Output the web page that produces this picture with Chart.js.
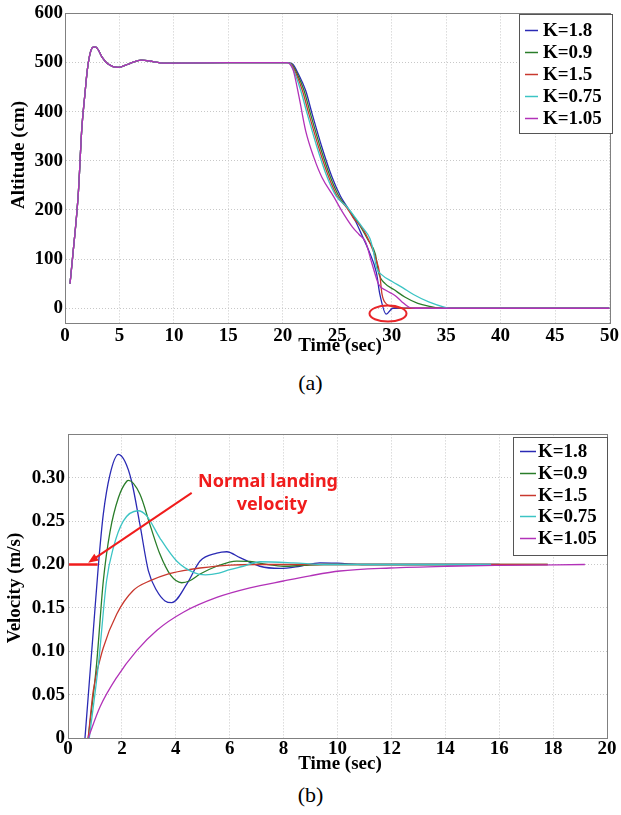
<!DOCTYPE html>
<html>
<head>
<meta charset="utf-8">
<script src="https://cdn.jsdelivr.net/npm/chart.js@4.4.0/dist/chart.umd.min.js"></script>
<style>
  body { margin: 0; background: #fff; width: 621px; height: 815px; position: relative; overflow: hidden; }
  canvas { position: absolute; left: 0; }
  #altChart { top: 0; }
  #velChart { top: 420px; }
  .cap { position: absolute; left: 0; width: 621px; text-align: center; font-family: "Liberation Serif", serif; font-size: 22px; }
</style>
</head>
<body>
<canvas id="altChart" width="621" height="365"></canvas>
<canvas id="velChart" width="621" height="355"></canvas>
<div class="cap" style="top:370px">(a)</div>
<div class="cap" style="top:782px">(b)</div>

<script>
// 曲线名称 / 颜色
const seriesLabels = ['K=1.8', 'K=0.9', 'K=1.5', 'K=0.75', 'K=1.05'];
const seriesColors = ['#2a2ab4', '#2a7d2a', '#c8382e', '#3cc4c4', '#b232b8'];

// ---------- (a) 高度 ----------
const altXTicks = [0, 5, 10, 15, 20, 25, 30, 35, 40, 45, 50];
const altYTicks = [0, 100, 200, 300, 400, 500, 600];

// 起飞 + 悬停段 (五条曲线相同)
const riseTime = [0.46, 0.7, 1.22, 1.55, 1.83, 2.04, 2.3, 2.55, 2.8, 3.1, 3.4, 3.96, 4.87, 5.94, 7.0, 8.07, 8.99, 10, 15, 20.4];
const riseAlt  = [50, 104, 233, 368, 436, 483, 518, 531, 532, 524, 511, 497, 490, 498, 505, 502, 499, 499, 500, 500];

// 降落段
const descTime18 = [20.9, 21.4, 22.1, 22.7, 23.6, 24.5, 25.3, 26.0, 26.7, 27.3, 27.9, 28.6, 28.9, 29.5, 30.1, 50];
const descAlt18  = [497, 478, 443, 395, 327, 268, 228, 203, 176, 147, 117, 72, 30, -12, 0, 0];
const descTime09 = [20.8, 21.3, 21.95, 22.55, 23.45, 24.35, 25.15, 25.95, 27.0, 27.8, 28.5, 28.8, 29.4, 30.2, 31.2, 32.4, 33.5, 34.7, 50];
const descAlt09  = [497, 478, 443, 395, 327, 268, 228, 204, 171, 140, 110, 72, 50, 38, 23, 10, 4, 0, 0];
const descTime15 = [20.75, 21.2, 21.8, 22.4, 23.3, 24.2, 25.0, 25.9, 26.5, 27.3, 28.0, 28.5, 28.9, 29.1, 29.5, 30.3, 31.0, 50];
const descAlt15  = [497, 478, 443, 395, 327, 268, 228, 204, 183, 163, 133, 104, 70, 30, 9, 2, 0, 0];
const descTime075 = [20.7, 21.1, 21.65, 22.25, 23.15, 24.05, 24.9, 25.9, 26.6, 27.4, 28.0, 28.3, 28.6, 29.1, 30.0, 31.0, 32.0, 33.4, 34.9, 35.5, 50];
const descAlt075  = [497, 478, 443, 395, 327, 268, 228, 206, 186, 162, 142, 118, 83, 68, 55, 42, 28, 13, 2, 0, 0];
const descTime105 = [20.65, 20.95, 21.5, 22.1, 22.85, 23.6, 24.7, 25.5, 26.4, 27.0, 27.6, 28.2, 28.8, 29.5, 30.3, 30.9, 31.6, 32.2, 50];
const descAlt105  = [497, 485, 429, 361, 307, 266, 226, 195, 165, 150, 135, 90, 49, 36, 26, 14, 2, 0, 0];

// ---------- (b) 速度 ----------
const velXTicks = [0, 2, 4, 6, 8, 10, 12, 14, 16, 18, 20];
const velYTicks = [0, 0.05, 0.10, 0.15, 0.20, 0.25, 0.30];

const velTime18 = [0.63, 0.94, 1.13, 1.31, 1.56, 1.87, 2.11, 2.36, 2.67, 2.98, 3.29, 3.6, 3.85, 4.4, 4.9, 5.52, 5.89, 6.38, 7.12, 7.87, 8.6, 9.35, 10.0, 11.0, 16.0];
const vel18     = [0, 0.124, 0.2, 0.258, 0.304, 0.327, 0.319, 0.296, 0.246, 0.193, 0.17, 0.158, 0.156, 0.177, 0.204, 0.213, 0.2147, 0.208, 0.198, 0.1955, 0.198, 0.202, 0.2015, 0.2, 0.2];
const velTime09 = [0.75, 1.06, 1.31, 1.56, 1.87, 2.18, 2.25, 2.67, 3.04, 3.41, 3.8, 4.22, 4.5, 4.9, 5.52, 6.26, 6.75, 7.37, 7.99, 8.73, 9.5, 17.8];
const vel09     = [0, 0.085, 0.181, 0.238, 0.277, 0.296, 0.297, 0.281, 0.246, 0.212, 0.188, 0.179, 0.181, 0.189, 0.198, 0.204, 0.2035, 0.2002, 0.198, 0.199, 0.2, 0.2];
const velTime15 = [0.75, 0.94, 1.31, 1.81, 2.42, 3.1, 3.7, 4.28, 4.9, 6.01, 7.0, 17.8];
const vel15     = [0, 0.055, 0.104, 0.143, 0.17, 0.182, 0.189, 0.193, 0.196, 0.1994, 0.2, 0.2];
const velTime075 = [0.79, 1.13, 1.43, 1.68, 2.05, 2.6, 2.92, 3.41, 4.03, 4.65, 5.1, 5.6, 6.0, 6.5, 7.12, 8.36, 9.6, 15.7];
const vel075     = [0, 0.085, 0.181, 0.219, 0.25, 0.262, 0.256, 0.2305, 0.204, 0.191, 0.188, 0.19, 0.194, 0.198, 0.2032, 0.202, 0.2, 0.2];
const velTime105 = [0.75, 1.19, 1.81, 2.55, 3.29, 4.28, 5.52, 6.75, 7.99, 8.98, 10.09, 11.95, 14.05, 16.0, 19.18];
const vel105     = [0, 0.036, 0.07, 0.1007, 0.124, 0.145, 0.162, 0.173, 0.181, 0.187, 0.1925, 0.196, 0.198, 0.199, 0.2];

const SERIF = '"Liberation Serif", "Times New Roman", serif';

function toPoints(ts, vs) {
    return ts.map((t, i) => ({ x: t, y: vs[i] }));
}

function makeDatasets(pointLists) {
    return pointLists.map((pts, i) => ({
        label: seriesLabels[i],
        data: pts,
        borderColor: seriesColors[i],
        borderWidth: 1.3,
        pointRadius: 0,
        fill: false,
        cubicInterpolationMode: 'monotone',
        order: 5 - i
    }));
}

// MATLAB 风格的图框 + 轴标题 + 图例
function frameAndLegend(opts) {
    return {
        id: 'frameAndLegend',
        afterDraw(chart) {
            const ctx = chart.ctx;
            const a = chart.chartArea;
            ctx.save();
            ctx.strokeStyle = '#808080';
            ctx.lineWidth = 1;
            ctx.strokeRect(Math.round(a.left) + 0.5, Math.round(a.top) + 0.5,
                Math.round(a.right - a.left), Math.round(a.bottom - a.top));

            // 轴标题
            ctx.fillStyle = '#000';
            ctx.font = 'bold 19px ' + SERIF;
            ctx.textAlign = 'center';
            ctx.textBaseline = 'middle';
            ctx.fillText(opts.xTitle, opts.xTitleX, opts.xTitleY);
            ctx.save();
            ctx.translate(opts.yTitleX, opts.yTitleY);
            ctx.rotate(-Math.PI / 2);
            ctx.fillText(opts.yTitle, 0, 0);
            ctx.restore();

            // 图例
            const L = opts.legend;
            ctx.fillStyle = '#fff';
            ctx.fillRect(L.x, L.y, L.w, L.h);
            ctx.strokeStyle = '#555';
            ctx.strokeRect(L.x + 0.5, L.y + 0.5, L.w, L.h);
            ctx.textAlign = 'left';
            seriesLabels.forEach((lab, i) => {
                const yy = L.row0 + i * L.step;
                ctx.strokeStyle = seriesColors[i];
                ctx.lineWidth = 1.5;
                ctx.beginPath();
                ctx.moveTo(L.line0, Math.round(yy) + 0.5);
                ctx.lineTo(L.line1, Math.round(yy) + 0.5);
                ctx.stroke();
                ctx.fillStyle = '#000';
                ctx.fillText(lab, L.text, yy + 1);
            });
            ctx.restore();
        }
    };
}

function axisCommon(ticksArr, fmt, pad) {
    return {
        type: 'linear',
        afterBuildTicks: s => { s.ticks = ticksArr.map(v => ({ value: v })); },
        grid: { color: '#c8c8c8', lineWidth: 1, drawTicks: false },
        border: { display: true, color: '#808080', dash: [1, 2] },
        ticks: {
            color: '#000',
            padding: pad,
            autoSkip: false,
            maxRotation: 0,
            font: { family: SERIF, weight: 'bold', size: 19 },
            callback: fmt
        }
    };
}

// ---------- 图 (a) ----------
const altPlugin = frameAndLegend({
    xTitle: 'Time (sec)', xTitleX: 340, xTitleY: 346,
    yTitle: 'Altitude (cm)', yTitleX: 19, yTitleY: 155,
    legend: { x: 519, y: 14, w: 93, h: 119, row0: 30, step: 22, line0: 525, line1: 538, text: 543 }
});

const circlePlugin = {
    id: 'circleMark',
    afterDatasetsDraw(chart) {
        const ctx = chart.ctx;
        const xs = chart.scales.x, ys = chart.scales.y;
        ctx.save();
        ctx.strokeStyle = '#e8262a';
        ctx.lineWidth = 2;
        ctx.beginPath();
        ctx.ellipse(xs.getPixelForValue(29.66), ys.getPixelForValue(-10.8), 18.5, 8, 0, 0, Math.PI * 2);
        ctx.stroke();
        ctx.restore();
    }
};

const altX = axisCommon(altXTicks, v => String(v), 2);
altX.min = 0; altX.max = 50;
altX.afterFit = s => { s.height = 42; };
const altY = axisCommon(altYTicks, v => String(v), 2);
altY.min = -30; altY.max = 600;
altY.afterFit = s => { s.width = 65; };

const withRise = (ts, vs) => toPoints(riseTime.concat(ts), riseAlt.concat(vs));

new Chart(document.getElementById('altChart'), {
    type: 'line',
    data: {
        datasets: makeDatasets([
            withRise(descTime18, descAlt18),
            withRise(descTime09, descAlt09),
            withRise(descTime15, descAlt15),
            withRise(descTime075, descAlt075),
            withRise(descTime105, descAlt105)
        ])
    },
    options: {
        responsive: false,
        animation: false,
        devicePixelRatio: 1,
        layout: { padding: { left: 0, top: 13, right: 9, bottom: 0 } },
        scales: { x: altX, y: altY },
        plugins: { legend: { display: false }, tooltip: { enabled: false } }
    },
    plugins: [circlePlugin, altPlugin]
});

// ---------- 图 (b) ----------
const velPlugin = frameAndLegend({
    xTitle: 'Time (sec)', xTitleX: 340, xTitleY: 344,
    yTitle: 'Velocity (m/s)', yTitleX: 15, yTitleY: 168,
    legend: { x: 513, y: 17, w: 94, h: 118, row0: 31, step: 21.8, line0: 520, line1: 536, text: 538 }
});

const landingNote = {
    id: 'landingNote',
    afterDatasetsDraw(chart) {
        const ctx = chart.ctx;
        const xs = chart.scales.x, ys = chart.scales.y;
        const px = v => xs.getPixelForValue(v), py = v => ys.getPixelForValue(v);
        ctx.save();
        ctx.strokeStyle = '#f01c1c';
        ctx.fillStyle = '#f01c1c';
        // 正常着陆速度参考线
        ctx.lineWidth = 2.5;
        ctx.beginPath();
        ctx.moveTo(px(0), py(0.2));
        ctx.lineTo(px(1.1), py(0.2));
        ctx.stroke();
        // 箭头
        const x0 = px(4.59), y0 = py(0.2825), x1 = px(0.75), y1 = py(0.202);
        const ang = Math.atan2(y1 - y0, x1 - x0);
        ctx.lineWidth = 2;
        ctx.beginPath();
        ctx.moveTo(x0, y0);
        ctx.lineTo(x1 - 6 * Math.cos(ang), y1 - 6 * Math.sin(ang));
        ctx.stroke();
        ctx.beginPath();
        ctx.moveTo(x1, y1);
        ctx.lineTo(x1 - 10 * Math.cos(ang) + 4 * Math.sin(ang), y1 - 10 * Math.sin(ang) - 4 * Math.cos(ang));
        ctx.lineTo(x1 - 10 * Math.cos(ang) - 4 * Math.sin(ang), y1 - 10 * Math.sin(ang) + 4 * Math.cos(ang));
        ctx.closePath();
        ctx.fill();
        // 文字
        ctx.font = 'bold 18px "Noto Sans", sans-serif';
        ctx.textAlign = 'center';
        ctx.textBaseline = 'alphabetic';
        ctx.fillText('Normal landing', 268, 67);
        ctx.fillText('velocity', 272, 90);
        ctx.restore();
    }
};

const velX = axisCommon(velXTicks, v => String(v), 0);
velX.min = 0; velX.max = 20;
velX.afterFit = s => { s.height = 37; };
const velY = axisCommon(velYTicks, v => (v === 0 ? '0' : v.toFixed(2)), 3);
velY.min = 0; velY.max = 0.35;
velY.afterFit = s => { s.width = 68; };

new Chart(document.getElementById('velChart'), {
    type: 'line',
    data: {
        datasets: makeDatasets([
            toPoints(velTime18, vel18),
            toPoints(velTime09, vel09),
            toPoints(velTime15, vel15),
            toPoints(velTime075, vel075),
            toPoints(velTime105, vel105)
        ])
    },
    options: {
        responsive: false,
        animation: false,
        devicePixelRatio: 1,
        layout: { padding: { left: 0, top: 13, right: 14, bottom: 0 } },
        scales: { x: velX, y: velY },
        plugins: { legend: { display: false }, tooltip: { enabled: false } }
    },
    plugins: [landingNote, velPlugin]
});
</script>
</body>
</html>
